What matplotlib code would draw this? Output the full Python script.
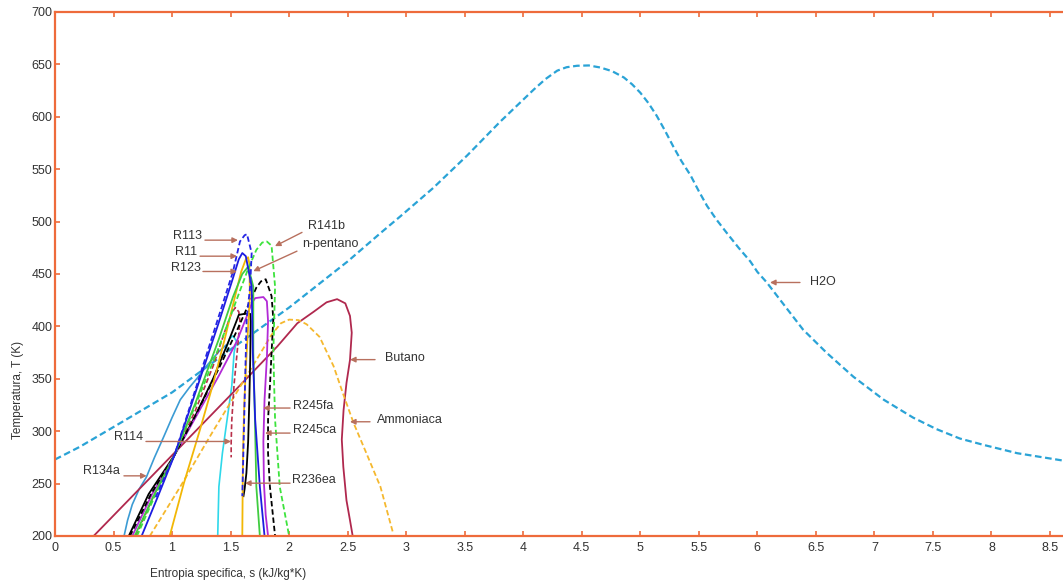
import matplotlib
matplotlib.use('Agg')
import matplotlib.pyplot as plt
import matplotlib.ticker as ticker

plt.rcParams['font.family'] = ['Liberation Sans', 'DejaVu Sans']

SPINE = "#EE6B3B"
ARROW = "#B8705E"
TEXT = "#333333"

# --- curve di saturazione (s in kJ/kg*K, T in K) ---

h2o_s = [0.0, 0.21, 0.5, 1.0, 1.5, 2.0, 2.5, 2.78, 2.95, 3.23, 3.52, 3.80, 4.09,
         4.19, 4.29, 4.37, 4.46, 4.56, 4.66, 4.76, 4.86, 4.93, 5.00, 5.07, 5.14,
         5.21, 5.28, 5.35, 5.43, 5.50, 5.57, 5.65, 5.74, 5.84, 5.94, 6.00, 6.08,
         6.19, 6.39, 6.59, 6.82, 7.08, 7.33, 7.53, 7.73, 7.93, 8.22, 8.61]
h2o_T = [273, 285, 304, 337, 378, 418, 462, 489, 505, 532, 563, 595, 626,
         636, 644, 647.3, 648.7, 649, 647, 643.5, 637.5, 631, 623, 613, 601,
         587, 572, 558, 544, 529, 515, 502, 489, 475, 462, 452, 442,
         426, 397, 375, 352, 330, 313, 302, 293, 287, 279, 272]

r134a_s = [0.59, 0.62, 0.66, 0.72, 0.78, 0.85, 0.93, 1.0, 1.07, 1.15, 1.21, 1.30, 1.40, 1.46]
r134a_T = [200, 215, 230, 245, 256, 275, 295, 313, 330, 342, 350, 363, 376, 382]

ciano_s = [1.46, 1.49, 1.52, 1.55, 1.53, 1.51, 1.47, 1.43, 1.40, 1.39]
ciano_T = [378, 388, 391, 386, 375, 343, 311, 279, 247, 200]

butano_s = [0.33, 0.8, 1.2, 1.6, 1.9, 2.07, 2.21, 2.32, 2.41, 2.48, 2.52, 2.535,
            2.52, 2.49, 2.465, 2.45, 2.463, 2.49, 2.52, 2.543]
butano_T = [200, 254, 300, 346, 381, 403, 414, 423, 426, 422, 410, 394,
            368, 346, 320, 292, 266, 234, 215, 200]

ammoniaca_s = [0.81, 1.07, 1.35, 1.65, 1.85, 1.93, 2.0, 2.08, 2.15, 2.26, 2.38,
               2.46, 2.55, 2.66, 2.78, 2.89]
ammoniaca_T = [200, 247, 300, 355, 392, 403, 406.5, 406, 402, 390, 362,
               336, 308, 279, 247, 202]

r11_s = [0.74, 0.88, 1.02, 1.2, 1.4, 1.52, 1.57, 1.60, 1.63, 1.68, 1.69, 1.71, 1.75, 1.79]
r11_T = [200, 238, 277, 337, 404, 446, 464, 470, 467, 438, 375, 311, 247, 200]

r113_s = [0.86, 1.02, 1.2, 1.4, 1.52, 1.58, 1.62, 1.64, 1.68, 1.667, 1.637, 1.623, 1.609, 1.60]
r113_T = [237, 277, 340, 410, 452, 481, 487, 488, 470, 438, 407, 343, 279, 238]

r123_s = [0.68, 0.85, 1.02, 1.2, 1.4, 1.52, 1.60, 1.65, 1.694, 1.694, 1.708, 1.72, 1.75]
r123_T = [200, 240, 277, 327, 388, 428, 450, 457, 438, 375, 311, 247, 200]

r141b_s = [0.70, 0.86, 1.02, 1.2, 1.4, 1.55, 1.65, 1.72, 1.77, 1.81, 1.85, 1.88,
           1.865, 1.88, 1.92, 2.0]
r141b_T = [200, 240, 277, 325, 380, 425, 455, 473, 480, 481, 477, 438,
           375, 311, 247, 200]

pentano_s = [0.98, 1.1, 1.24, 1.35, 1.45, 1.53, 1.59, 1.63, 1.65, 1.66, 1.665,
             1.65, 1.63, 1.615, 1.605, 1.60]
pentano_T = [200, 250, 302, 345, 388, 425, 452, 464, 466, 460, 430,
             400, 360, 320, 270, 200]

r245ca_s = [0.64, 0.82, 1.02, 1.2, 1.4, 1.55, 1.65, 1.72, 1.76, 1.80, 1.85,
            1.865, 1.85, 1.836, 1.82, 1.82, 1.836, 1.88]
r245ca_T = [200, 240, 277, 315, 360, 395, 420, 437, 443, 445, 429,
            407, 375, 343, 311, 279, 247, 200]

r245fa_s = [0.66, 0.83, 1.02, 1.2, 1.4, 1.55, 1.64, 1.68, 1.71, 1.78, 1.81,
            1.82, 1.81, 1.79, 1.78, 1.785, 1.80, 1.82]
r245fa_T = [200, 240, 277, 313, 353, 385, 410, 422, 427, 428, 424,
            405, 370, 330, 290, 250, 220, 200]

r236ea_s = [0.63, 0.8, 1.02, 1.2, 1.35, 1.48, 1.55, 1.57, 1.62, 1.667, 1.672,
            1.668, 1.66, 1.65, 1.635, 1.62, 1.61]
r236ea_T = [200, 240, 277, 315, 350, 385, 405, 411, 412, 412, 405,
            370, 330, 290, 260, 245, 238]

r114_s = [0.69, 0.85, 1.02, 1.2, 1.35, 1.45, 1.51, 1.54, 1.57, 1.58, 1.56,
          1.53, 1.51, 1.505, 1.505]
r114_T = [200, 240, 277, 320, 362, 395, 413, 418, 414, 405, 380,
          345, 310, 290, 275]

DASH = (0, (3, 1.6))

# nome, s, T, colore, stile, spessore
curve = [
    ("H2O", h2o_s, h2o_T, "#2AA3D6", DASH, 1.6),
    ("ciano", ciano_s, ciano_T, "#2FD8EA", "-", 1.2),
    ("R134a", r134a_s, r134a_T, "#3B9BD4", "-", 1.2),
    ("Butano", butano_s, butano_T, "#B0284E", "-", 1.3),
    ("Ammoniaca", ammoniaca_s, ammoniaca_T, "#F5B82E", DASH, 1.3),
    ("R114", r114_s, r114_T, "#B8304A", DASH, 1.2),
    ("R236ea", r236ea_s, r236ea_T, "black", "-", 1.3),
    ("R245fa", r245fa_s, r245fa_T, "#B22AD6", "-", 1.3),
    ("R245ca", r245ca_s, r245ca_T, "black", DASH, 1.3),
    ("n-pentano", pentano_s, pentano_T, "#F2B705", "-", 1.3),
    ("R141b", r141b_s, r141b_T, "#3DE33D", DASH, 1.3),
    ("R123", r123_s, r123_T, "#40CC40", "-", 1.3),
    ("R11", r11_s, r11_T, "#1C1CE0", "-", 1.3),
    ("R113", r113_s, r113_T, "#2525E5", DASH, 1.3),
]

# etichette: testo, posizione testo, coda freccia, punta freccia, allineamento
etichette = [
    ("R113", (1.256, 485.8), (1.281, 482.3), (1.563, 482.3), "right"),
    ("R11", (1.213, 470.6), (1.239, 467.0), (1.555, 467.0), "right"),
    ("R123", (1.247, 455.3), (1.264, 452.4), (1.555, 452.4), "right"),
    ("R141b", (2.161, 495.7), (2.110, 489.7), (1.879, 476.6), "left"),
    ("n-pentano", (2.110, 478.2), (2.067, 471.8), (1.694, 452.7), "left"),
    ("Butano", (2.819, 369.9), (2.734, 368.3), (2.520, 368.3), "left"),
    ("Ammoniaca", (2.751, 310.9), (2.691, 309.0), (2.520, 309.0), "left"),
    ("R245fa", (2.033, 323.6), (2.008, 322.1), (1.777, 322.1), "left"),
    ("R245ca", (2.033, 301.3), (2.008, 298.2), (1.794, 298.2), "left"),
    ("R236ea", (2.025, 253.5), (2.008, 250.4), (1.623, 250.4), "left"),
    ("R114", (0.752, 294.4), (0.777, 290.2), (1.504, 290.2), "right"),
    ("R134a", (0.555, 262.4), (0.589, 257.4), (0.783, 257.4), "right"),
    ("H2O", (6.450, 441.9), (6.364, 441.9), (6.108, 441.9), "left"),
]

fig = plt.figure(figsize=(10.63, 5.83), dpi=100)
ax = fig.add_axes([55 / 1063, 47 / 583, 1008 / 1063, 524 / 583])

for nome, s, T, col, ls, lw in curve:
    ax.plot(s, T, color=col, linestyle=ls, linewidth=lw)

for testo, pos, coda, punta, ha in etichette:
    ax.annotate("", xy=punta, xytext=coda,
                arrowprops=dict(arrowstyle="-|>", color=ARROW, lw=1.0,
                                mutation_scale=8, shrinkA=0, shrinkB=0))
    ax.text(pos[0], pos[1], testo, ha=ha, va="center", fontsize=9, color=TEXT)

ax.set_xlim(0, 8.611)
ax.set_ylim(200, 700)
ax.xaxis.set_major_locator(ticker.MultipleLocator(0.5))
ax.yaxis.set_major_locator(ticker.MultipleLocator(50))
ax.xaxis.set_major_formatter(ticker.FormatStrFormatter("%g"))

for lato in ["left", "bottom", "top"]:
    ax.spines[lato].set_color(SPINE)
    ax.spines[lato].set_linewidth(1.6)
ax.spines["right"].set_visible(False)
ax.tick_params(direction="in", length=3.5, width=1.2, color=SPINE,
               labelcolor=TEXT, labelsize=9, top=True, right=False)
ax.tick_params(axis="x", pad=4.5)
ax.tick_params(axis="y", pad=2)

ax.set_xlabel("Entropia specifica, s (kJ/kg*K)", fontsize=8.5, color=TEXT)
ax.set_ylabel("Temperatura, T (K)", fontsize=8.5, color=TEXT)
ax.xaxis.set_label_coords(0.172, -0.061)
ax.yaxis.set_label_coords(-0.031, 0.279)

fig.savefig("out.png", dpi=100)
